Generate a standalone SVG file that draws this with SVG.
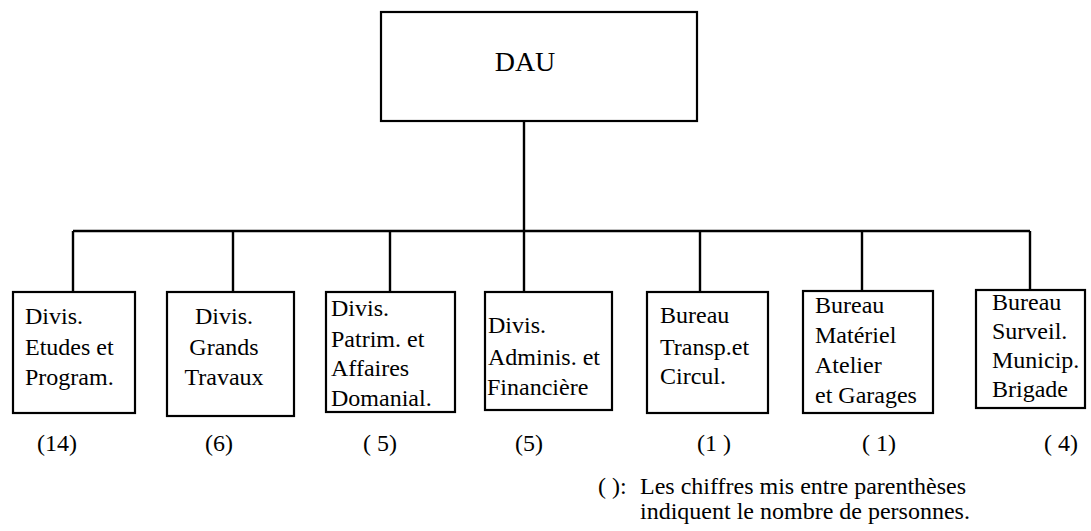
<svg xmlns="http://www.w3.org/2000/svg" width="1091" height="531" viewBox="0 0 1091 531">
<style>
.box{fill:#fff;stroke:#000;stroke-width:2.2}
.ln{fill:none;stroke:#000;stroke-width:2.4}
text{font-family:"Liberation Serif","Times New Roman",serif;font-size:24px;fill:#000}
.t{font-size:28px}
.m{text-anchor:middle}
</style>
<rect width="1091" height="531" fill="#fff"/>
<g id="connectors">
<path class="ln" d="M524 121V231M73 231H1030M73 231V292M233 231V292M390 231V292M524 231V292M700 231V292M862 231V292M1030 231V291"/>
</g>
<g id="dau"><rect class="box" x="381" y="12" width="316" height="109"/><text class="t m" x="525" y="71">DAU</text></g>
<g id="n1"><rect class="box" x="13" y="292" width="122" height="121"/><text x="25" y="324">Divis.</text><text x="25" y="355">Etudes et</text><text x="25" y="385">Program.</text></g>
<g id="n2"><rect class="box" x="167" y="292" width="127" height="124"/><text class="m" x="224" y="324">Divis.</text><text class="m" x="224" y="355">Grands</text><text class="m" x="224" y="385">Travaux</text></g>
<g id="n3"><rect class="box" x="326" y="292" width="129" height="120"/><text x="331" y="316">Divis.</text><text x="331" y="347">Patrim. et</text><text x="331" y="376">Affaires</text><text x="331" y="406">Domanial.</text></g>
<g id="n4"><rect class="box" x="485" y="292" width="127" height="118"/><text x="488" y="333">Divis.</text><text x="488" y="365">Adminis. et</text><text x="487" y="395">Financière</text></g>
<g id="n5"><rect class="box" x="647" y="292" width="121" height="121"/><text x="660" y="323">Bureau</text><text x="660" y="355">Transp.et</text><text x="660" y="384">Circul.</text></g>
<g id="n6"><rect class="box" x="803" y="291" width="130" height="122"/><text x="815" y="313">Bureau</text><text x="815" y="343">Matériel</text><text x="815" y="373">Atelier</text><text x="815" y="403">et Garages</text></g>
<g id="n7"><rect class="box" x="976" y="290" width="109" height="118"/><text x="992" y="310">Bureau</text><text x="992" y="339">Surveil.</text><text x="992" y="368">Municip.</text><text x="992" y="397">Brigade</text></g>
<g id="counts">
<text x="37" y="451">(14)</text><text x="205" y="451">(6)</text><text x="363" y="451">( 5)</text><text x="515" y="451">(5)</text><text x="697" y="451">(1 )</text><text x="862" y="451">( 1)</text><text x="1044" y="451">( 4)</text>
</g>
<g id="note">
<text x="598" y="494">( ):</text><text x="640" y="494">Les chiffres mis entre parenthèses</text><text x="640" y="519">indiquent le nombre de personnes.</text>
</g>
</svg>
